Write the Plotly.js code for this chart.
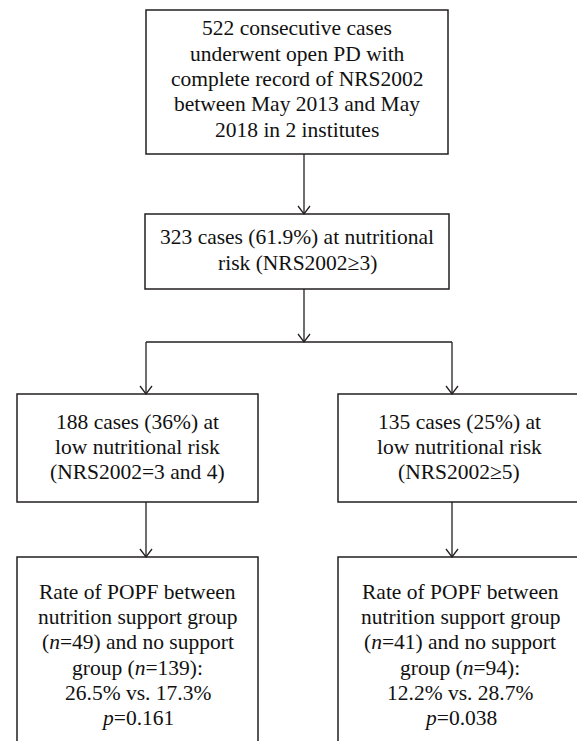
<!DOCTYPE html>
<html>
<head>
<meta charset="utf-8">
<script src="https://cdn.plot.ly/plotly-3.0.1.min.js"></script>
<style>html,body{margin:0;padding:0;background:#fff;}#chart{width:577px;height:741px;}</style>
</head>
<body>
<div id="chart"></div>
<script>
// ---- content (flowchart texts) ----
var topBoxLines = ["522 consecutive cases", "underwent open PD with", "complete record of NRS2002", "between May 2013 and May", "2018 in 2 institutes"];
var riskBoxLines = ["323 cases (61.9%) at nutritional", "risk (NRS2002\u22653)"];
var lowRiskLines = ["188 cases (36%) at", "low nutritional risk", "(NRS2002=3 and 4)"];
var highRiskLines = ["135 cases (25%) at", "low nutritional risk", "(NRS2002\u22655)"];
var popfLowLines = ["Rate of POPF between", "nutrition support group", "(<i>n</i>=49) and no support", "group (<i>n</i>=139):", "26.5% vs. 17.3%", "<i>p</i>=0.161"];
var popfHighLines = ["Rate of POPF between", "nutrition support group", "(<i>n</i>=41) and no support", "group (<i>n</i>=94):", "12.2% vs. 28.7%", "<i>p</i>=0.038"];

// ---- layout geometry (pixels) ----
var W = 577, H = 741;
var boxes = [
  {x0:146, x1:448, y0:10,  y1:154, lines: topBoxLines, tx:297, ty:79},
  {x0:145, x1:449, y0:214, y1:289, lines: riskBoxLines, tx:297, ty:250},
  {x0:17,  x1:258, y0:394, y1:502, lines: lowRiskLines, tx:137.5, ty:447},
  {x0:338, x1:579, y0:394, y1:502, lines: highRiskLines, tx:459, ty:447},
  {x0:17,  x1:258, y0:557, y1:780, lines: popfLowLines, tx:137.5, ty:655},
  {x0:338, x1:579, y0:557, y1:780, lines: popfHighLines, tx:460, ty:655}
];
var lineGap = 25.3;
var trunkX = 304, branchY = 342, leftX = 146, rightX = 452;
var arrows = [
  [trunkX, 154, trunkX, 214],
  [trunkX, 289, trunkX, branchY],
  [leftX, branchY, leftX, 394],
  [rightX, branchY, rightX, 394],
  [leftX, 502, leftX, 557],
  [rightX, 502, rightX, 557]
];
var lineCol = "#231f20";
var textCol = "#111111";
var fontFamily = "'Liberation Serif', 'Times New Roman', serif";

var shapes = [];
var annotations = [];
boxes.forEach(function(b){
  shapes.push({type:"rect", xref:"x", yref:"y", x0:b.x0, x1:b.x1, y0:b.y0, y1:b.y1,
    line:{color:lineCol, width:1.5}, fillcolor:"rgba(0,0,0,0)"});
  var n = b.lines.length;
  b.lines.forEach(function(t, i){
    annotations.push({xref:"x", yref:"y", x:b.tx, y:b.ty + (i - (n-1)/2)*lineGap, text:t,
      showarrow:false, xanchor:"center", yanchor:"middle", align:"center",
      font:{family:fontFamily, size:21.5, color:textCol}});
  });
});
arrows.forEach(function(a){
  shapes.push({type:"line", xref:"x", yref:"y", x0:a[0], y0:a[1], x1:a[2], y1:a[3],
    line:{color:lineCol, width:1.3}});
  var hx = a[2], hy = a[3];
  shapes.push({type:"path", xref:"x", yref:"y",
    path:"M"+(hx-6)+","+(hy-8)+" L"+hx+","+hy+" L"+(hx+6)+","+(hy-8),
    line:{color:lineCol, width:1.3}});
});
// horizontal branch line
shapes.push({type:"line", xref:"x", yref:"y", x0:leftX, y0:branchY, x1:rightX, y1:branchY,
  line:{color:lineCol, width:1.3}});

var layout = {
  width:W, height:H,
  margin:{l:0, r:0, t:0, b:0},
  paper_bgcolor:"#fff", plot_bgcolor:"#fff",
  xaxis:{range:[0,W], visible:false, fixedrange:true},
  yaxis:{range:[H,0], visible:false, fixedrange:true},
  shapes:shapes,
  annotations:annotations,
  showlegend:false
};
Plotly.newPlot("chart", [{x:[], y:[], type:"scatter", hoverinfo:"skip"}], layout, {staticPlot:true, displayModeBar:false});
</script>
</body>
</html>
